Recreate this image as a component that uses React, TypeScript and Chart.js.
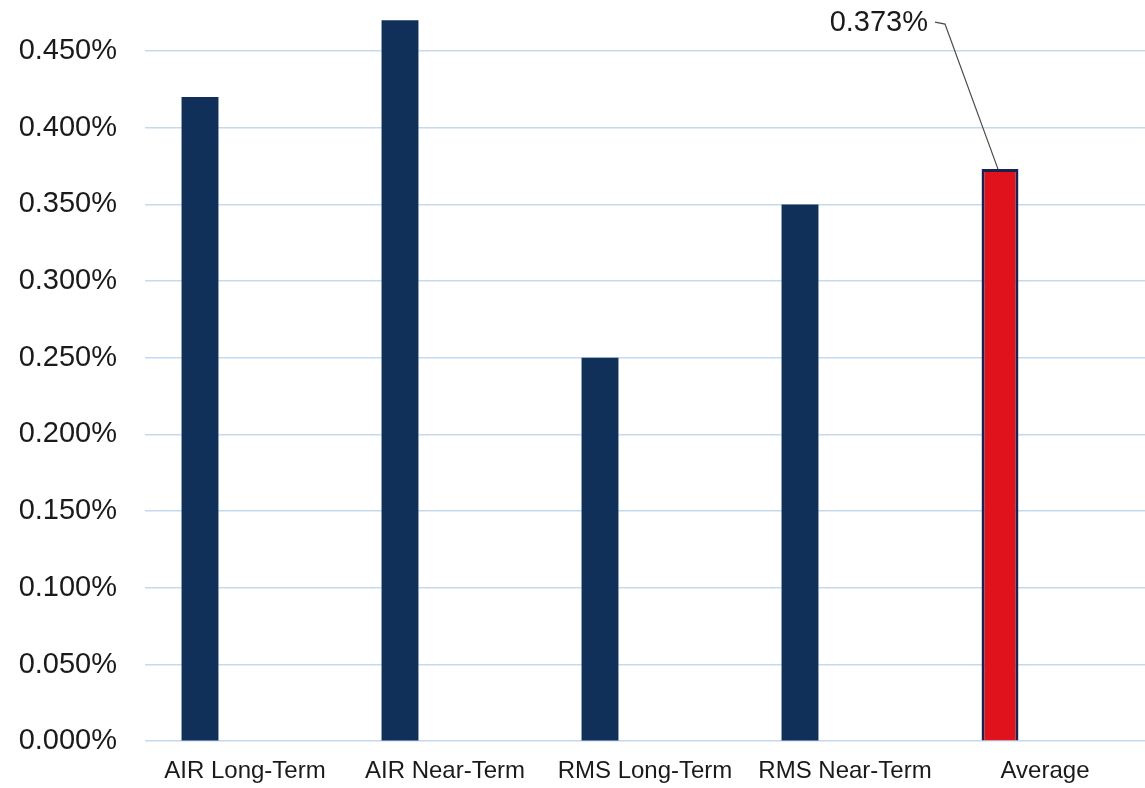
import React, { useEffect, useRef } from "react";
import { Chart, registerables } from "chart.js";

Chart.register(...registerables);

const categories = ["AIR Long-Term", "AIR Near-Term", "RMS Long-Term", "RMS Near-Term", "Average"];
const values = [0.42, 0.47, 0.25, 0.35, 0.373];
const placeholderSeries = [null, null, null, null, null];
const yTickValues = [0, 0.05, 0.1, 0.15, 0.2, 0.25, 0.3, 0.35, 0.4, 0.45];
const averageLabel = "0.373%";

const NAVY = "#10305a";
const RED = "#e0121c";
const FONT = '"Liberation Sans", Arial, sans-serif';

const calloutPlugin = {
  id: "callout",
  afterDatasetsDraw(chart: any) {
    const meta = chart.getDatasetMeta(0);
    const bar = meta.data[4];
    if (!bar) return;
    const ctx = chart.ctx;
    const tx = bar.x - 72;
    const ty = bar.y - 146;
    ctx.save();
    ctx.font = `29px ${FONT}`;
    ctx.fillStyle = "#1a1a1a";
    ctx.textAlign = "right";
    ctx.textBaseline = "middle";
    ctx.fillText(averageLabel, tx, ty);
    ctx.strokeStyle = "#4a4a4a";
    ctx.lineWidth = 1.2;
    ctx.beginPath();
    ctx.moveTo(tx + 7, ty - 1);
    ctx.lineTo(tx + 17, ty + 1);
    ctx.lineTo(bar.x - 2, bar.y);
    ctx.stroke();
    ctx.restore();
  },
};

export default function App() {
  const ref = useRef<HTMLCanvasElement | null>(null);

  useEffect(() => {
    if (!ref.current) return;
    const chart = new Chart(ref.current, {
      type: "bar",
      data: {
        labels: categories,
        datasets: [
          {
            data: values,
            backgroundColor: [NAVY, NAVY, NAVY, NAVY, RED],
            borderColor: [NAVY, NAVY, NAVY, NAVY, "#1c2250"],
            borderWidth: [0, 0, 0, 0, 3],
            categoryPercentage: 0.9,
            barPercentage: 0.41,
          },
          {
            data: placeholderSeries as any,
            backgroundColor: NAVY,
            categoryPercentage: 0.9,
            barPercentage: 0.41,
          },
        ],
      },
      options: {
        animation: false,
        responsive: true,
        maintainAspectRatio: false,
        layout: { padding: { top: 0, bottom: -6, left: 0, right: 0 } },
        plugins: { legend: { display: false }, tooltip: { enabled: false } },
        scales: {
          x: {
            grid: { display: false },
            border: { display: false },
            ticks: {
              font: { family: FONT, size: 24 },
              color: "#1a1a1a",
              padding: 8,
              maxRotation: 0,
              autoSkip: false,
            },
          },
          y: {
            min: 0,
            max: 0.481,
            afterBuildTicks: (axis: any) => {
              axis.ticks = yTickValues.map((v) => ({ value: v }));
            },
            afterFit: (axis: any) => {
              axis.width = 145;
            },
            grid: {
              color: "#c6daee",
              lineWidth: 1.5,
              drawTicks: true,
              tickLength: 26,
              tickColor: "rgba(0,0,0,0)",
            },
            border: { display: false },
            ticks: {
              font: { family: FONT, size: 29, lineHeight: 0.1 },
              color: "#1a1a1a",
              padding: 2,
              callback: (v: any) => Number(v).toFixed(3) + "%",
            },
          },
        },
      },
      plugins: [calloutPlugin],
    });
    return () => chart.destroy();
  }, []);

  return (
    <div style={{ position: "absolute", left: 0, top: 0, width: 1145, height: 788, background: "#fff" }}>
      <canvas ref={ref} />
    </div>
  );
}
